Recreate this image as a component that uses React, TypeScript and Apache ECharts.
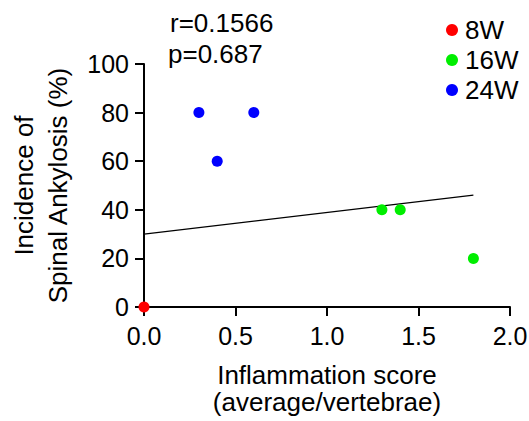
import React, { useEffect, useRef } from "react";
import * as echarts from "echarts";

const seriesNames = ["8W", "16W", "24W"];
const seriesColors = ["#ff0000", "#00ee00", "#0000ff"];
const data8W: number[][] = [[0, 0]];
const data16W: number[][] = [[1.3, 40], [1.4, 40], [1.8, 20]];
const data24W: number[][] = [[0.3, 80], [0.6, 80], [0.4, 60]];
const fitLine: number[][] = [[0, 30], [1.8, 46]];
const statsText = ["r=0.1566", "p=0.687"];
const xTitle = "Inflammation score\n(average/vertebrae)";
const yTitle = "Incidence of\nSpinal Ankylosis (%)";

const FONT = "'Liberation Sans', Arial, sans-serif";
const FS = 25;
const FS_T = 26;

export default function App() {
  const ref = useRef<HTMLDivElement>(null);
  useEffect(() => {
    document.body.style.margin = "0";
    const chart = echarts.init(ref.current!, undefined, { renderer: "svg" });
    const allData = [data8W, data16W, data24W];
    chart.setOption({
      animation: false,
      backgroundColor: "#ffffff",
      textStyle: { fontFamily: FONT },
      grid: { left: 144, right: 19, top: 64, bottom: 114, containLabel: false, outerBoundsMode: "none" },
      legend: {
        orient: "vertical",
        left: 441,
        top: 12,
        itemGap: 4,
        itemWidth: 12,
        itemHeight: 12,
        icon: "circle",
        data: seriesNames,
        textStyle: { fontSize: FS_T, lineHeight: 26, color: "#000", fontFamily: FONT, padding: [0, 0, 0, 2] },
      },
      xAxis: {
        type: "value",
        min: 0,
        max: 2,
        interval: 0.5,
        splitLine: { show: false },
        axisLine: { lineStyle: { color: "#000", width: 2 } },
        axisTick: { lineStyle: { color: "#000", width: 2 }, length: 9 },
        axisLabel: { color: "#000", fontSize: FS, margin: 16, formatter: (v: number) => v.toFixed(1) },
        name: xTitle,
        nameLocation: "middle",
        nameGap: 54,
        nameTextStyle: { color: "#000", fontSize: FS_T, lineHeight: 27 },
      },
      yAxis: {
        type: "value",
        min: 0,
        max: 100,
        interval: 20,
        splitLine: { show: false },
        axisLine: { lineStyle: { color: "#000", width: 2 } },
        axisTick: { lineStyle: { color: "#000", width: 2 }, length: 9 },
        axisLabel: { color: "#000", fontSize: FS, margin: 15 },
        name: yTitle,
        nameLocation: "middle",
        nameGap: 69,
        nameRotate: 90,
        nameTextStyle: { color: "#000", fontSize: FS_T, lineHeight: 34 },
      },
      graphic: [
        {
          type: "text",
          x: 170,
          y: 23,
          style: { text: statsText[0], fill: "#000", font: `${FS_T}px ${FONT}`, verticalAlign: "middle", align: "left" },
        },
        {
          type: "text",
          x: 168,
          y: 54,
          style: { text: statsText[1], fill: "#000", font: `${FS_T}px ${FONT}`, verticalAlign: "middle", align: "left" },
        },
      ],
      series: [
        ...seriesNames.map((name, i) => ({
          name,
          type: "scatter",
          data: allData[i],
          symbol: "circle",
          symbolSize: 11,
          itemStyle: { color: seriesColors[i], opacity: 1 },
          z: 5,
          clip: false,
        })),
        {
          name: "fit",
          type: "line",
          data: fitLine,
          showSymbol: false,
          symbol: "none",
          lineStyle: { color: "#000", width: 1.3 },
          z: 3,
        },
      ],
    });
    return () => chart.dispose();
  }, []);
  return <div ref={ref} style={{ width: 529, height: 421 }} />;
}
